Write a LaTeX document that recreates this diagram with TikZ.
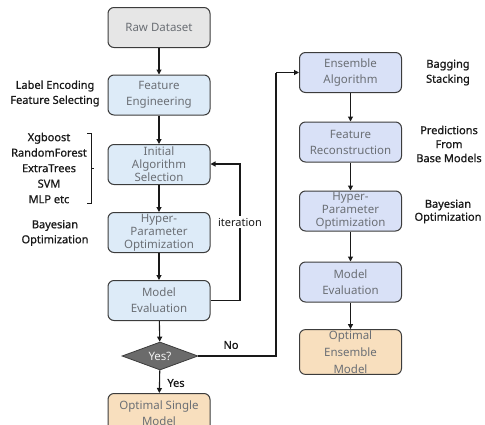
\documentclass[tikz,border=0pt]{standalone}
\usepackage{fontspec}
\setmainfont{Noto Sans}
\newfontfamily\labfont[FakeBold=0.9]{Noto Sans}
\usetikzlibrary{shapes.geometric,arrows.meta}
\definecolor{bluefill}{HTML}{DDEBF8}
\definecolor{lavfill}{HTML}{D9E1F7}
\definecolor{orfill}{HTML}{F8DFBE}
\definecolor{grayfill}{HTML}{E6E6E6}
\definecolor{boxtext}{HTML}{6B6F75}
\definecolor{edge}{HTML}{3C3C3C}
\definecolor{diafill}{HTML}{6B6B6B}
\tikzset{
  x=1pt, y=-1pt,
  box/.style={draw=edge, line width=1pt, rounded corners=6pt, minimum width=102pt,
    minimum height=40pt, align=center, text=boxtext, font=\fontsize{11.5}{14}\selectfont, inner sep=1pt},
  lbox/.style={box, fill=bluefill},
  rbox/.style={box, fill=lavfill},
  obox/.style={box, fill=orfill},
  side/.style={align=center, font=\labfont\fontsize{11}{15}\selectfont, text=black!90, inner sep=0pt},
  conn/.style={line width=1.1pt, draw=black!90, -{Triangle[length=5pt,width=5pt]}},
  line/.style={line width=1.1pt, draw=black!90}
}
\begin{document}
\begin{tikzpicture}
\useasboundingbox (0,0) rectangle (485,424);
\clip (0,0) rectangle (485,424);
% left column
\node[box, fill=grayfill] (raw) at (159,27.5) {Raw Dataset};
\node[lbox] (fe) at (159,95) {Feature\\[2pt]Engineering};
\node[lbox, font=\fontsize{11.5}{13}\selectfont] (init) at (159,164.5) {Initial\\Algorithm\\Selection};
\node[lbox, font=\fontsize{11.5}{13}\selectfont] (hpo) at (159,232.5) {Hyper-\\Parameter\\Optimization};
\node[lbox] (me) at (159,300.5) {Model\\[2pt]Evaluation};
\node[diamond, draw=edge, fill=diafill, line width=0.8pt, minimum width=76pt, minimum height=28pt,
  inner sep=0pt, aspect=2.7, text=white!90!gray, font=\fontsize{11.5}{14}\selectfont] (dec) at (160,356) {Yes?};
\node[obox] (osm) at (159,413.5) {Optimal Single\\[2pt]Model};
% right column
\node[rbox] (ens) at (350.5,72.5) {Ensemble\\[2pt]Algorithm};
\node[rbox] (frec) at (350.5,142) {Feature\\[2pt]Reconstruction};
\node[rbox, font=\fontsize{11.5}{13}\selectfont] (hpo2) at (350.5,211) {Hyper-\\Parameter\\Optimization};
\node[rbox] (me2) at (350.5,282) {Model\\[2pt]Evaluation};
\node[obox, font=\fontsize{11.5}{17}\selectfont] (oem) at (350.5,352) {Optimal\\Ensemble\\Model};
% vertical arrows
\draw[conn] (raw) -- (fe);
\draw[conn] (fe) -- (init);
\draw[conn] (init) -- (hpo);
\draw[conn] (hpo) -- (me);
\draw[conn] (me) -- (dec);
\draw[conn] (dec) -- (osm);
\draw[conn] (ens) -- (frec);
\draw[conn] (frec) -- (hpo2);
\draw[conn] (hpo2) -- (me2);
\draw[conn] (me2) -- (oem);
% iteration loop
\coordinate (itb) at (240,300.5);
\coordinate (itt) at (240,164);
\node[align=center, font=\fontsize{11}{15}\selectfont, text=black!90, fill=white, inner sep=2pt] (itl) at (240,222) {iteration};
\draw[line] (me.east) -- (itb) -- (itl.south);
\draw[conn] (itl.north) -- (itt) -- (init.east |- itt);
% No loop
\coordinate (nb) at (276,356);
\coordinate (nt) at (276,72.5);
\draw[line] (dec.east) -- (nb) -- (nt);
\draw[conn] (nt) -- (ens.west);
\node[side] (nolab) at (231,345) {No};
\node[side] (yeslab) at (176,383) {Yes};
% side labels left
\node[side] (le) at (55,93.5) {Label Encoding\\Feature Selecting};
\node[side, font=\labfont\fontsize{11}{15.5}\selectfont] (alg) at (49,168) {Xgboost\\RandomForest\\ExtraTrees\\SVM\\MLP etc};
\node[side] (bo1) at (55,233) {Bayesian\\Optimization};
\coordinate (b1) at (87,133);
\coordinate (b2) at (91,133);
\coordinate (b3) at (91,203);
\coordinate (b4) at (87,203);
\coordinate (bm) at (91,168);
\coordinate (bm2) at (94,168);
\draw[line, line width=0.6pt] (b1) -- (b2) -- (b3) -- (b4);
\draw[line, line width=0.6pt] (bm) -- (bm2);
% side labels right
\node[side] (bag) at (448,72.5) {Bagging\\Stacking};
\node[side, font=\labfont\fontsize{11}{14}\selectfont] (pred) at (449,144) {Predictions\\From\\Base Models};
\node[side, font=\labfont\fontsize{11}{13}\selectfont] (bo2) at (448,211.5) {Bayesian\\Optimization};
\end{tikzpicture}
\end{document}
